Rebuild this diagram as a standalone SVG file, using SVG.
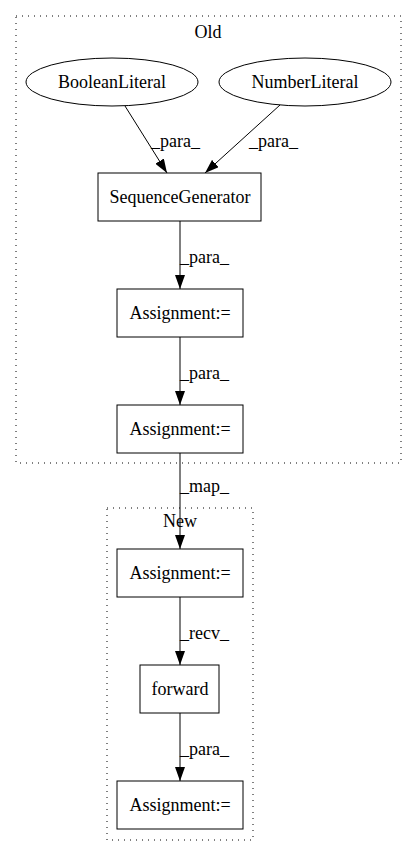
<svg xmlns="http://www.w3.org/2000/svg" width="417" height="856" viewBox="0 0 417 856">
<defs>
<style>
text{font-family:'Liberation Serif','Times New Roman',serif;font-size:18px;fill:#000}
.c{text-anchor:middle}
.n{fill:#fff;stroke:#000;stroke-width:1}
.cl{fill:none;stroke:#000;stroke-width:1;stroke-dasharray:1,5}
.e{fill:none;stroke:#000;stroke-width:1;marker-end:url(#ah)}
</style>
<marker id="ah" markerUnits="userSpaceOnUse" markerWidth="14" markerHeight="10" viewBox="0 0 14 10" refX="14" refY="5" orient="auto">
<polygon points="0,0 14,5 0,10" fill="#000"/>
</marker>
</defs>
<rect width="417" height="856" fill="#fff"/>
<g id="cluster_old">
<rect class="cl" x="16" y="16" width="385" height="447"/>
<text class="c" x="208" y="38">Old</text>
</g>
<g id="cluster_new">
<rect class="cl" x="107" y="508" width="146" height="332"/>
<text class="c" x="180" y="527">New</text>
</g>
<g id="edges">
<path class="e" d="M125,106 L167,173"/>
<text x="151" y="147">_para_</text>
<path class="e" d="M280,105 L205,173"/>
<text x="249" y="147">_para_</text>
<path class="e" d="M180,221 L180,289"/>
<text x="180" y="263">_para_</text>
<path class="e" d="M180,337 L180,405"/>
<text x="180" y="379">_para_</text>
<path class="e" d="M180,453 L180,549"/>
<text x="180" y="492">_map_</text>
<path class="e" d="M180,597 L180,665"/>
<text x="180" y="639">_recv_</text>
<path class="e" d="M180,713 L180,781"/>
<text x="180" y="755">_para_</text>
</g>
<g id="BooleanLiteral">
<ellipse class="n" cx="112" cy="82" rx="86" ry="24"/>
<text class="c" x="112" y="88">BooleanLiteral</text>
</g>
<g id="NumberLiteral">
<ellipse class="n" cx="305" cy="82" rx="86" ry="24"/>
<text class="c" x="305" y="88">NumberLiteral</text>
</g>
<g id="SequenceGenerator">
<rect class="n" x="98" y="173" width="163" height="48"/>
<text class="c" x="180" y="203">SequenceGenerator</text>
</g>
<g id="OldAssignment1">
<rect class="n" x="117" y="289" width="126" height="48"/>
<text class="c" x="180" y="319">Assignment:=</text>
</g>
<g id="OldAssignment2">
<rect class="n" x="117" y="405" width="126" height="48"/>
<text class="c" x="180" y="435">Assignment:=</text>
</g>
<g id="NewAssignment1">
<rect class="n" x="117" y="549" width="126" height="48"/>
<text class="c" x="180" y="579">Assignment:=</text>
</g>
<g id="forward">
<rect class="n" x="140" y="665" width="79" height="48"/>
<text class="c" x="180" y="695">forward</text>
</g>
<g id="NewAssignment2">
<rect class="n" x="117" y="781" width="126" height="48"/>
<text class="c" x="180" y="811">Assignment:=</text>
</g>
</svg>
